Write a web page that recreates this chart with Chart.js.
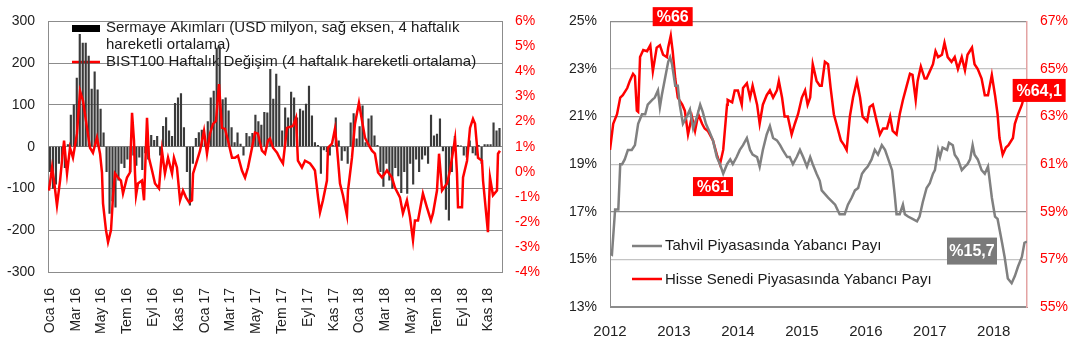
<!DOCTYPE html>
<html>
<head>
<meta charset="utf-8">
<script src="https://cdn.jsdelivr.net/npm/chart.js@4.4.1/dist/chart.umd.min.js"></script>
<style>
  body { margin: 0; background: #fff; }
  #wrap { position: relative; width: 1082px; height: 358px; }
  canvas { position: absolute; top: 0; }
  #graficoAkim { left: 0; }
  #graficoPay { left: 545px; }
</style>
</head>
<body>
<div id="wrap">
  <canvas id="graficoAkim" width="545" height="358"></canvas>
  <canvas id="graficoPay" width="537" height="358"></canvas>
</div>
<script>
// ---- grafico izquierdo: flujos semanales + BIST100 ----
const etiquetasMes = ["Oca 16", "Mar 16", "May 16", "Tem 16", "Eyl 16", "Kas 16",
    "Oca 17", "Mar 17", "May 17", "Tem 17", "Eyl 17", "Kas 17",
    "Oca 18", "Mar 18", "May 18", "Tem 18", "Eyl 18", "Kas 18"];

// USD milyon, una barra por semana desde enero 2016
const akimlar = [
    -60, -100, -90, -40, -30, -50, 5, 76, 100, 164,
    269, 248, 248, 217, 138, 179, 136, 90, 33, -60,
    -160, -130, -145, -80, -40, -50, -30, -60, -20, -45,
    -25, -55, -15, -30, 27, 15, 25, -20, 49, 70,
    38, 25, 104, 117, 127, 46, -60, -140, -40, 20,
    34, 40, 20, 60, 117, 133, 236, 240, 113, 117,
    86, 46, 10, 33, 6, -20, 32, 24, 32, 76,
    60, 52, 82, 81, 185, 114, 174, 145, 38, 93,
    69, 131, 117, 69, 90, 86, 102, 145, 74, 10,
    3, -64, -8, -12, -20, 3, 69, 14, -33, -10,
    -40, 57, 79, 19, 48, 98, 10, 67, 74, 26,
    3, -60, -95, -40, -80, -100, -50, -70, -110, -60,
    -112, -40, -90, -30, -60, -30, -20, -40, 76, 26,
    30, 67, -10, -150, -176, -60, 25, 3, 2, -20,
    -25, 14, -15, -20, 3, -40, 5, 5, 5, 57,
    38, 44
];

// BIST100 (meses desde enero 2016, %)
const bistAy = [
    -0.08, 0.16, 0.31, 0.54, 0.78, 0.93, 1.09, 1.32, 1.55, 1.78,
    2.09, 2.33, 2.56, 2.87, 3.10, 3.33, 3.64, 3.88, 4.03, 4.11,
    4.34, 4.50, 4.73, 4.88, 5.04, 5.27, 5.50, 5.66, 5.97, 6.20,
    6.36, 6.51, 6.59, 6.67, 6.82, 7.13, 7.29, 7.52, 7.67, 7.91,
    8.14, 8.45, 8.68, 8.91, 9.15, 9.46, 9.61, 9.84, 10.08, 10.31,
    10.54, 10.78, 11.01, 11.09, 11.40, 11.63, 11.94, 12.17, 12.40, 12.64,
    12.87, 13.10, 13.33, 13.57, 13.80, 14.11, 14.34, 14.57, 14.88, 15.12,
    15.35, 15.66, 15.89, 16.12, 16.43, 16.67, 16.90, 17.05, 17.29, 17.60,
    17.83, 18.06, 18.37, 18.60, 18.84, 19.07, 19.22, 19.53, 19.77, 20.16,
    20.39, 20.54, 20.78, 20.93, 21.16, 21.47, 21.55, 21.86, 22.09, 22.25,
    22.48, 22.71, 23.02, 23.10, 23.41, 23.64, 23.95, 24.19, 24.42, 24.65,
    24.96, 25.19, 25.43, 25.74, 26.12, 26.51, 26.74, 27.13, 27.36, 27.67,
    27.91, 28.14, 28.29, 28.53, 28.91, 29.22, 29.53, 29.69, 30.00, 30.16,
    30.39, 30.78, 31.01, 31.40, 31.55, 31.63, 31.94, 32.02, 32.33, 32.56,
    32.79, 32.95, 33.18, 33.49, 33.57, 33.95, 34.11, 34.34, 34.65, 34.73,
    34.88
];
const bistDegisim = [
    -0.75, 0.17, -0.35, -1.34, -0.35, 0.44, 1.24, -0.07, 0.96, 0.56,
    1.52, 3.22, 2.83, 1.75, 0.96, 0.76, 1.36, 0.72, -0.03, -1.26,
    -2.33, -2.81, -2.33, -1.02, -0.07, -0.23, -0.35, -0.87, -0.23, -0.03,
    2.35, 1.24, -0.07, -0.94, -0.47, -0.35, -1.14, 2.15, 0.56, 0.05,
    -0.47, -0.67, 0.84, -0.07, 0.56, -0.07, 0.56, 0.17, -1.14, -0.75,
    -1.02, -1.22, -1.14, -0.07, 0.44, 0.84, 1.63, 0.72, 1.52, 1.91,
    2.03, 3.50, 1.75, 1.71, 1.24, 0.56, 0.56, 0.64, 0.05, -0.23,
    0.17, 0.96, 1.56, 1.52, 0.84, 0.72, 1.24, 1.32, 0.96, 0.76,
    0.52, 0.33, 1.75, 1.79, 1.83, 2.15, 0.44, 0.17, 0.44, 0.33,
    0.17, 0.05, -1.02, -1.62, -1.14, -0.35, 0.96, 1.12, 1.71, 0.96,
    -0.47, -0.94, -1.74, -0.75, 0.56, 1.91, 2.75, 2.03, 1.36, 1.12,
    0.84, 0.72, -0.03, -0.23, 0.05, -0.23, -0.63, -1.02, -1.66, -1.14,
    -1.82, -2.73, -1.94, -1.94, -0.87, -1.42, -1.94, -1.66, -0.75, 0.72,
    -0.75, -0.47, 0.05, 1.32, -0.07, -1.42, -1.42, -0.23, 0.44, 1.75,
    2.11, 1.91, 0.56, 0.44, -0.35, -2.41, -0.23, -0.94, -0.75, 0.72,
    0.84
];

// ---- grafico derecho: participacion extranjera ----
const anios = [2012, 2013, 2014, 2015, 2016, 2017, 2018];

const tahvilYil = [
    2012.00, 2012.03, 2012.08, 2012.13, 2012.16, 2012.19, 2012.23, 2012.28, 2012.34, 2012.39,
    2012.44, 2012.50, 2012.55, 2012.59, 2012.66, 2012.70, 2012.75, 2012.78, 2012.81, 2012.86,
    2012.91, 2012.94, 2012.97, 2013.02, 2013.06, 2013.09, 2013.14, 2013.20, 2013.25, 2013.30,
    2013.36, 2013.41, 2013.45, 2013.50, 2013.55, 2013.61, 2013.67, 2013.72, 2013.77, 2013.83,
    2013.88, 2013.92, 2013.98, 2014.03, 2014.08, 2014.14, 2014.19, 2014.23, 2014.30, 2014.34,
    2014.39, 2014.45, 2014.50, 2014.55, 2014.61, 2014.66, 2014.70, 2014.77, 2014.81, 2014.86,
    2014.92, 2014.97, 2015.02, 2015.08, 2015.13, 2015.17, 2015.23, 2015.28, 2015.31, 2015.41,
    2015.52, 2015.59, 2015.67, 2015.72, 2015.78, 2015.83, 2015.88, 2015.94, 2015.98, 2016.03,
    2016.09, 2016.14, 2016.19, 2016.25, 2016.30, 2016.34, 2016.41, 2016.45, 2016.48, 2016.53,
    2016.58, 2016.61, 2016.66, 2016.73, 2016.80, 2016.84, 2016.89, 2016.95, 2017.00, 2017.05,
    2017.08, 2017.13, 2017.16, 2017.20, 2017.27, 2017.30, 2017.36, 2017.39, 2017.44, 2017.50,
    2017.55, 2017.59, 2017.63, 2017.67, 2017.70, 2017.75, 2017.81, 2017.86, 2017.91, 2017.97,
    2018.02, 2018.06, 2018.13, 2018.17, 2018.22, 2018.28, 2018.33, 2018.38, 2018.44, 2018.48,
    2018.52
];
const tahvilPay = [
    15.25, 15.2, 17.1, 17.1, 19.0, 19.0, 19.2, 19.6, 19.6, 19.8,
    20.7, 21.1, 21.1, 21.5, 21.7, 21.8, 22.1, 21.4, 21.9, 22.6,
    23.3, 23.5, 23.2, 22.3, 22.3, 21.5, 20.7, 21.0, 21.3, 20.5,
    21.0, 21.5, 21.2, 20.7, 20.4, 20.0, 19.3, 19.0, 18.6, 19.0,
    19.2, 19.0, 19.3, 19.6, 19.8, 20.1, 19.6, 19.4, 19.3, 18.9,
    19.6, 20.25, 20.6, 20.1, 20.0, 19.8, 19.6, 19.3, 19.3, 19.0,
    19.3, 19.6, 19.3, 18.9, 19.3, 19.0, 18.6, 18.3, 17.9, 17.6,
    17.3, 16.9, 16.9, 17.3, 17.6, 17.9, 18.0, 18.6, 18.75, 18.9,
    19.2, 19.6, 19.4, 19.8, 19.6, 19.3, 18.75, 17.75, 16.9, 16.9,
    17.3, 16.9, 16.8, 16.7, 16.6, 16.8, 17.4, 18.0, 18.2, 18.6,
    18.75, 19.6, 19.3, 19.7, 19.6, 19.9, 19.8, 19.4, 19.2, 18.75,
    18.9, 19.0, 19.2, 19.8, 19.4, 19.2, 18.75, 18.6, 18.9, 17.6,
    16.8, 16.7, 15.7, 15.1, 14.2, 14.0, 14.3, 14.7, 15.1, 15.7,
    15.75
];

const hisseYil = [
    2012.00, 2012.05, 2012.11, 2012.16, 2012.20, 2012.27, 2012.31, 2012.36, 2012.39, 2012.42,
    2012.44, 2012.47, 2012.52, 2012.58, 2012.63, 2012.67, 2012.73, 2012.78, 2012.83, 2012.89,
    2012.91, 2012.95, 2012.98, 2013.02, 2013.06, 2013.13, 2013.17, 2013.22, 2013.28, 2013.33,
    2013.38, 2013.44, 2013.48, 2013.53, 2013.61, 2013.67, 2013.72, 2013.77, 2013.83, 2013.84,
    2013.91, 2013.95, 2014.00, 2014.06, 2014.08, 2014.14, 2014.19, 2014.23, 2014.30, 2014.34,
    2014.39, 2014.45, 2014.50, 2014.55, 2014.61, 2014.64, 2014.69, 2014.73, 2014.78, 2014.84,
    2014.89, 2014.94, 2015.00, 2015.05, 2015.09, 2015.13, 2015.17, 2015.23, 2015.28, 2015.31,
    2015.36, 2015.41, 2015.45, 2015.50, 2015.56, 2015.61, 2015.66, 2015.70, 2015.75, 2015.80,
    2015.86, 2015.91, 2015.95, 2016.02, 2016.06, 2016.11, 2016.17, 2016.22, 2016.27, 2016.33,
    2016.38, 2016.42, 2016.48, 2016.53, 2016.58, 2016.64, 2016.69, 2016.73, 2016.78, 2016.81,
    2016.86, 2016.92, 2016.95, 2017.00, 2017.05, 2017.09, 2017.13, 2017.19, 2017.23, 2017.28,
    2017.34, 2017.39, 2017.44, 2017.50, 2017.55, 2017.59, 2017.66, 2017.70, 2017.75, 2017.81,
    2017.86, 2017.91, 2017.97, 2018.02, 2018.06, 2018.09, 2018.14, 2018.19, 2018.23, 2018.30,
    2018.33, 2018.38, 2018.44, 2018.48, 2018.52
];
const hissePay = [
    61.6, 62.7, 63.1, 63.8, 63.9, 64.2, 64.5, 64.8, 64.7, 63.25,
    63.2, 65.5, 65.8, 65.75, 66.0, 64.9, 65.9, 66.0, 65.6, 65.5,
    65.9, 66.4, 65.75, 64.6, 63.8, 63.5, 63.25, 62.25, 63.0, 62.4,
    63.1, 62.7, 62.5, 62.4, 62.0, 61.4, 61.0, 61.6, 63.5, 63.7,
    63.6, 64.1, 64.1, 63.5, 64.2, 64.4, 63.8, 64.3, 63.5, 62.7,
    63.5, 63.9, 64.1, 63.8, 64.1, 64.5, 63.8, 63.0, 63.0, 62.25,
    62.7, 63.1, 63.8, 64.1, 63.5, 63.8, 65.2, 64.5, 64.3, 64.3,
    65.3, 65.2, 64.2, 63.1, 62.5, 62.0, 61.8, 61.6, 63.0, 63.8,
    64.5, 63.8, 63.0, 62.8, 63.4, 63.5, 62.8, 62.25, 62.5, 62.5,
    63.0, 62.4, 62.25, 63.1, 63.7, 64.3, 64.8, 64.75, 63.7, 64.5,
    65.1, 64.6, 64.6, 64.9, 65.2, 65.75, 65.5, 65.6, 66.1, 65.5,
    65.3, 65.5, 65.0, 65.5, 64.95, 65.6, 65.9, 65.2, 65.0, 64.6,
    63.9, 63.9, 64.75, 63.9, 63.1, 62.1, 61.4, 61.7, 61.8, 62.1,
    62.7, 63.1, 63.5, 63.9, 64.1
];

Chart.defaults.font.family = "'Liberation Sans', Arial, sans-serif";
Chart.defaults.font.size = 14;

const GRIS = "#8c8c8c";
const ROJO = "#ff0000";

// leyenda del grafico izquierdo, dibujada a mano como en el original
const leyendaAkim = {
    id: "leyendaAkim",
    beforeDatasetsDraw(chart) {
        const ctx = chart.ctx;
        ctx.save();
        ctx.fillStyle = "#000";
        ctx.fillRect(72, 25, 28, 7);
        ctx.strokeStyle = ROJO;
        ctx.lineWidth = 2.5;
        ctx.beginPath();
        ctx.moveTo(72, 62);
        ctx.lineTo(100, 62);
        ctx.stroke();
        ctx.fillStyle = "#1a1a1a";
        ctx.font = "15px 'Liberation Sans', Arial, sans-serif";
        ctx.textBaseline = "middle";
        ctx.fillText("Sermaye Akımları (USD milyon, sağ eksen, 4 haftalık", 106, 28);
        ctx.fillText("hareketli ortalama)", 106, 45);
        ctx.fillText("BIST100 Haftalık Değişim (4 haftalık hareketli ortalama)", 106, 62);
        ctx.restore();
    }
};

new Chart(document.getElementById("graficoAkim"), {
    type: "bar",
    data: {
        datasets: [
            {
                type: "line",
                label: "BIST100 Haftalık Değişim",
                data: bistAy.map((m, i) => ({ x: m, y: bistDegisim[i] })),
                yAxisID: "y1",
                borderColor: ROJO,
                borderWidth: 2.5,
                pointRadius: 0,
                tension: 0,
                order: 0
            },
            {
                type: "bar",
                label: "Sermaye Akımları",
                data: akimlar.map((v, i) => ({ x: i * 12 / 52, y: v })),
                yAxisID: "y",
                backgroundColor: "#3a3a3a",
                barThickness: 1.5,
                order: 1
            }
        ]
    },
    options: {
        responsive: false,
        animation: false,
        layout: { padding: { top: 20, left: 0, right: 0, bottom: 0 } },
        plugins: { legend: { display: false }, tooltip: { enabled: false } },
        scales: {
            x: {
                type: "linear",
                offset: false,
                min: -0.155,
                max: 35.04,
                afterBuildTicks: s => { s.ticks = etiquetasMes.map((_, k) => ({ value: 2 * k })); },
                afterFit: s => { s.height = 86; },
                ticks: {
                    callback: v => etiquetasMes[Math.round(v / 2)],
                    minRotation: 90,
                    maxRotation: 90,
                    autoSkip: false,
                    padding: 8,
                    color: "#222"
                },
                grid: { display: false },
                border: { color: GRIS }
            },
            y: {
                position: "left",
                min: -300,
                max: 300,
                afterFit: s => { s.width = 48; },
                ticks: { stepSize: 100, padding: 13, color: "#222" },
                grid: { color: GRIS, drawTicks: false },
                border: { color: GRIS }
            },
            y1: {
                position: "right",
                min: -4,
                max: 6,
                afterFit: s => { s.width = 43; },
                ticks: { stepSize: 1, padding: 13, color: ROJO, callback: v => v + "%" },
                grid: { drawOnChartArea: false, drawTicks: false },
                border: { color: GRIS }
            }
        }
    },
    plugins: [leyendaAkim]
});

// etiquetas en cajas del grafico derecho
const cajasPay = [
    { texto: "%66", x: 2012.98, y: 67.2, eje: "y1", fondo: ROJO, ancho: 40, alto: 19 },
    { texto: "%61", x: 2013.61, y: 60.06, eje: "y1", fondo: ROJO, ancho: 40, alto: 19 },
    { texto: "%64,1", x: 2018.71, y: 64.1, eje: "y1", fondo: ROJO, ancho: 53, alto: 23 },
    { texto: "%15,7", x: 2017.66, y: 15.35, eje: "y", fondo: "#7a7a7a", ancho: 50, alto: 27 }
];

const extrasPay = {
    id: "extrasPay",
    afterDatasetsDraw(chart) {
        const ctx = chart.ctx;
        ctx.save();
        // leyenda
        ctx.lineWidth = 2.5;
        ctx.strokeStyle = "#808080";
        ctx.beginPath(); ctx.moveTo(87, 246); ctx.lineTo(117, 246); ctx.stroke();
        ctx.strokeStyle = ROJO;
        ctx.beginPath(); ctx.moveTo(87, 279); ctx.lineTo(117, 279); ctx.stroke();
        ctx.fillStyle = "#1a1a1a";
        ctx.font = "15px 'Liberation Sans', Arial, sans-serif";
        ctx.textBaseline = "middle";
        ctx.fillText("Tahvil Piyasasında Yabancı Payı", 120, 246);
        ctx.fillText("Hisse Senedi Piyasasında Yabancı Payı", 120, 280);
        // cajas
        ctx.font = "bold 16px 'Liberation Sans', Arial, sans-serif";
        ctx.textAlign = "center";
        cajasPay.forEach(c => {
            const px = chart.scales.x.getPixelForValue(c.x);
            const py = chart.scales[c.eje].getPixelForValue(c.y);
            ctx.fillStyle = c.fondo;
            ctx.fillRect(px - c.ancho / 2, py - c.alto / 2, c.ancho, c.alto);
            ctx.fillStyle = "#fff";
            ctx.fillText(c.texto, px, py + 1);
        });
        ctx.restore();
    }
};

new Chart(document.getElementById("graficoPay"), {
    type: "line",
    data: {
        datasets: [
            {
                label: "Tahvil Piyasasında Yabancı Payı",
                data: tahvilYil.map((t, i) => ({ x: t, y: tahvilPay[i] })),
                yAxisID: "y",
                borderColor: "#808080",
                borderWidth: 2.5,
                pointRadius: 0,
                tension: 0
            },
            {
                label: "Hisse Senedi Piyasasında Yabancı Payı",
                data: hisseYil.map((t, i) => ({ x: t, y: hissePay[i] })),
                yAxisID: "y1",
                borderColor: ROJO,
                borderWidth: 2.5,
                pointRadius: 0,
                tension: 0
            }
        ]
    },
    options: {
        responsive: false,
        animation: false,
        layout: { padding: { top: 18, left: 0, right: 0, bottom: 0 } },
        plugins: { legend: { display: false }, tooltip: { enabled: false } },
        scales: {
            x: {
                type: "linear",
                min: 2012,
                max: 2018.52,
                afterBuildTicks: s => { s.ticks = anios.map(a => ({ value: a })); },
                afterFit: s => { s.height = 51; },
                ticks: { callback: v => String(v), padding: 8, color: "#222", font: { size: 15 }, maxRotation: 0 },
                grid: { display: false },
                border: { color: GRIS }
            },
            y: {
                position: "left",
                min: 13,
                max: 25,
                afterFit: s => { s.width = 65; },
                ticks: { stepSize: 2, padding: 13, color: "#222", callback: v => v + "%" },
                grid: {
                    drawTicks: false,
                    color: c => (c.tick && [23, 19, 15].includes(c.tick.value)) ? "#c4c4c4" : GRIS,
                    lineWidth: 1.3
                },
                border: { color: GRIS }
            },
            y1: {
                position: "right",
                min: 55,
                max: 67,
                afterFit: s => { s.width = 55; },
                ticks: { stepSize: 2, padding: 13, color: ROJO, callback: v => v + "%" },
                grid: { drawOnChartArea: false, drawTicks: false },
                border: { color: "#e3a3a3", width: 1.5 }
            }
        }
    },
    plugins: [extrasPay]
});
</script>
</body>
</html>
